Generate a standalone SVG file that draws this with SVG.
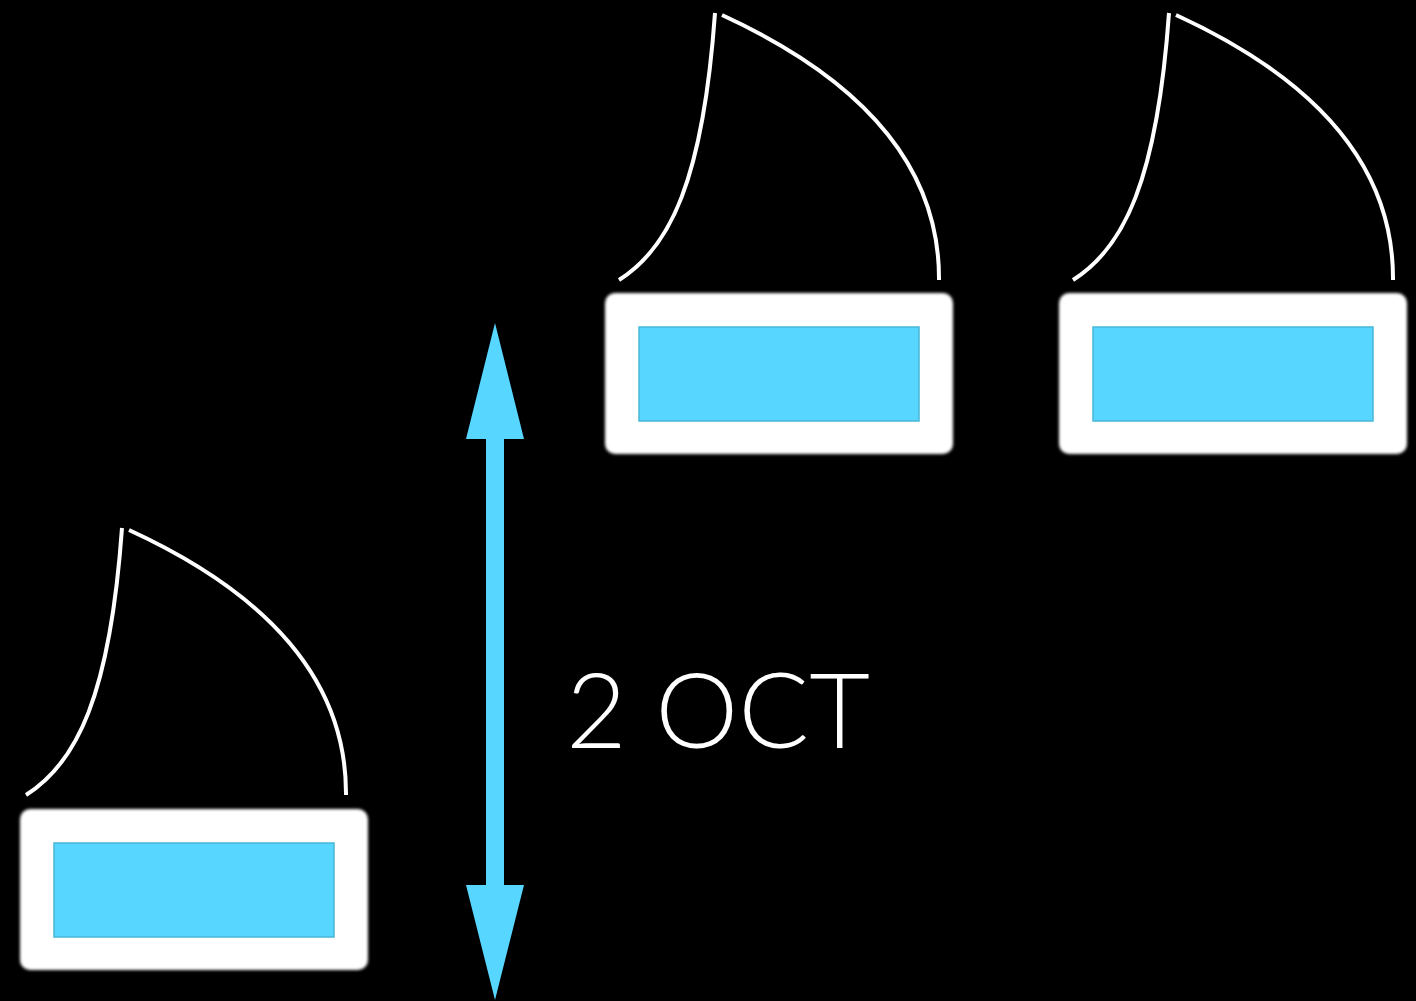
<svg xmlns="http://www.w3.org/2000/svg" width="1416" height="1001" viewBox="0 0 1416 1001">
<defs>
<filter id="soft" x="-5%" y="-10%" width="110%" height="120%"><feGaussianBlur stdDeviation="1.6"/></filter>
</defs>
<style>
.outer{fill:#ffffff;filter:url(#soft)}
.inner{fill:#57d6ff;stroke:#4ab6d8;stroke-width:1.5}
.env{fill:none;stroke:#ffffff;stroke-width:4;stroke-linecap:butt}
.arrow{fill:#57d6ff}
.lbl{font-family:Lato,"Open Sans",sans-serif;font-weight:300;font-size:104px;fill:#ffffff}
</style>
<rect width="1416" height="1001" fill="#000000"/>
<g id="node-top-middle">
<path class="env" d="M619,280 C670,248 703,180 715,13"/>
<path class="env" d="M722,15 C820,60 940,140 939,280"/>
<rect class="outer" x="605" y="293" width="348" height="161" rx="10"/>
<rect class="inner" x="639" y="327" width="280" height="94"/>
</g>
<g id="node-top-right">
<path class="env" d="M1073,280 C1124,248 1157,180 1169,13"/>
<path class="env" d="M1176,15 C1274,60 1394,140 1393,280"/>
<rect class="outer" x="1059" y="293" width="348" height="161" rx="10"/>
<rect class="inner" x="1093" y="327" width="280" height="94"/>
</g>
<g id="node-bottom-left">
<path class="env" d="M26,795 C77,763 110,695 122,528"/>
<path class="env" d="M129,530 C227,575 347,655 346,795"/>
<rect class="outer" x="20" y="809" width="348" height="161" rx="10"/>
<rect class="inner" x="54" y="843" width="280" height="94"/>
</g>
<g id="connectors">
<polygon class="arrow" points="495,323 524,439 504,439 504,885 524,885 495,1000 466,885 486,885 486,439 466,439"/>
</g>
<g id="label">
<text class="lbl" x="566" y="748" textLength="304" lengthAdjust="spacingAndGlyphs">2 OCT</text>
</g>
</svg>
